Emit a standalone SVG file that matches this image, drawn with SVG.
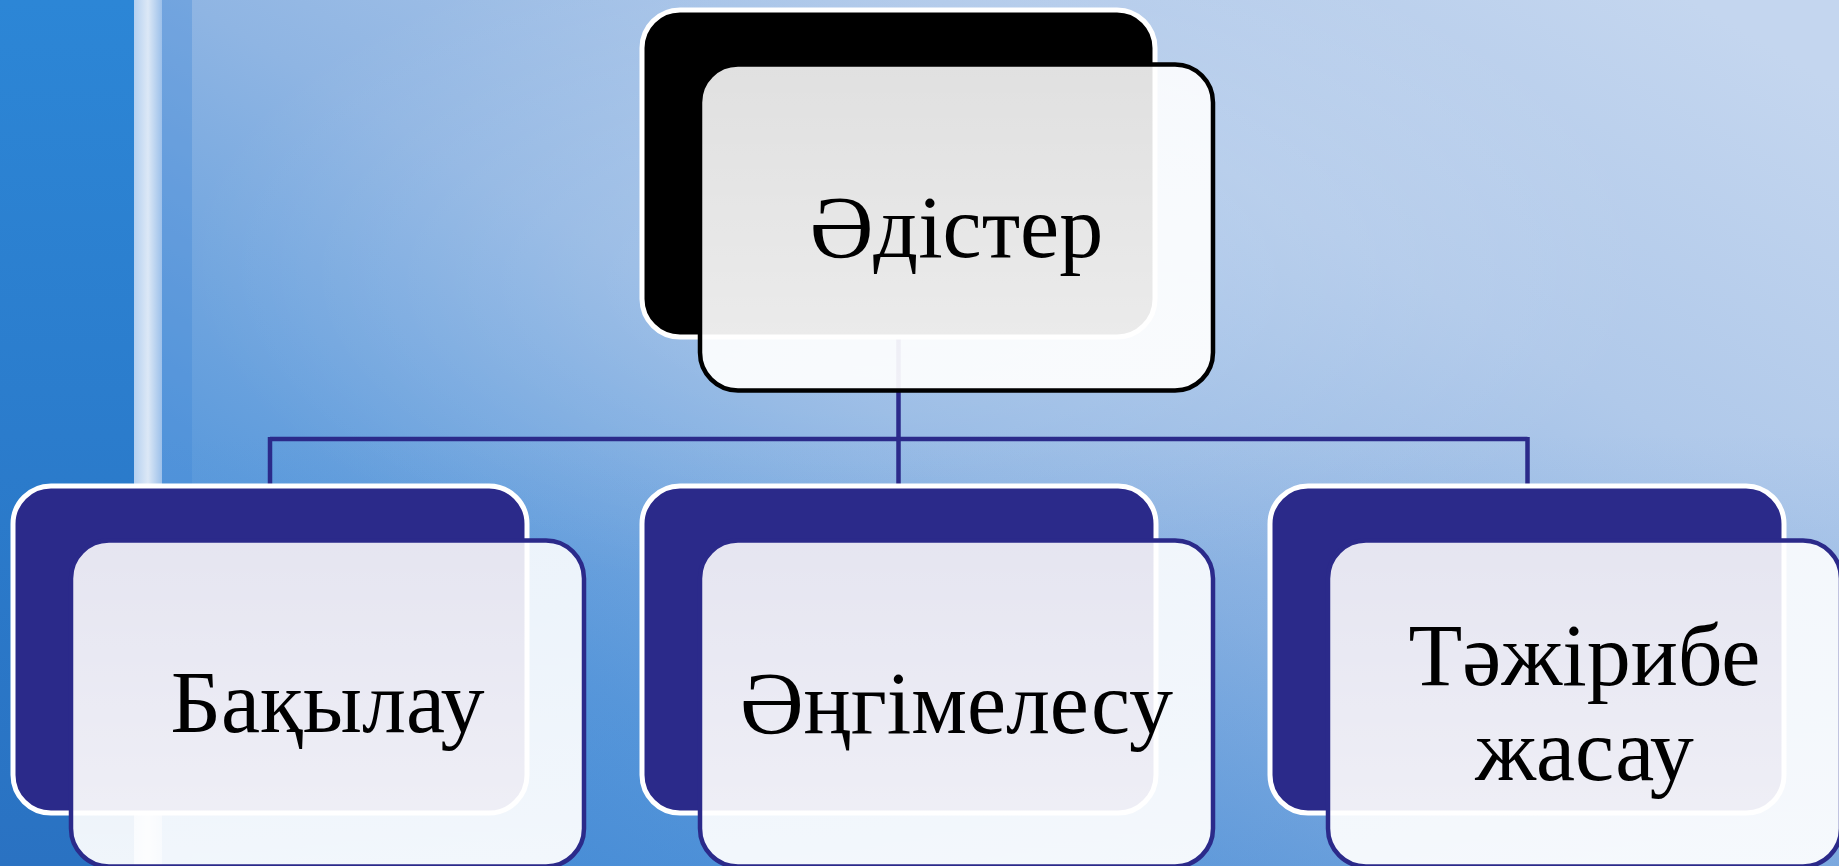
<svg xmlns="http://www.w3.org/2000/svg" width="1839" height="866" viewBox="0 0 1839 866">
  <defs>
    <linearGradient id="bgMain" x1="0" y1="0.9" x2="1" y2="0.1">
      <stop offset="0" stop-color="#3e8ad6"/>
      <stop offset="0.25" stop-color="#5d9bdc"/>
      <stop offset="0.5" stop-color="#8fb5e3"/>
      <stop offset="0.75" stop-color="#b0c9ea"/>
      <stop offset="1" stop-color="#c4d6ef"/>
    </linearGradient>
    <radialGradient id="glow" cx="0.5" cy="0.3" r="0.4">
      <stop offset="0" stop-color="#ffffff" stop-opacity="0.22"/>
      <stop offset="1" stop-color="#ffffff" stop-opacity="0"/>
    </radialGradient>
    <linearGradient id="bottomShade" x1="0" y1="0" x2="0" y2="1">
      <stop offset="0.5" stop-color="#3a80d0" stop-opacity="0"/>
      <stop offset="1" stop-color="#3a80d0" stop-opacity="0.3"/>
    </linearGradient>
    <linearGradient id="leftStrip" x1="0" y1="0" x2="0" y2="1">
      <stop offset="0" stop-color="#2c86d6"/>
      <stop offset="1" stop-color="#2a72c2"/>
    </linearGradient>
    <linearGradient id="lightStrip" x1="0" y1="0" x2="1" y2="0">
      <stop offset="0" stop-color="#b4d0f0"/>
      <stop offset="0.5" stop-color="#dce8f6"/>
      <stop offset="1" stop-color="#9cc0ea"/>
    </linearGradient>
    <linearGradient id="frontFill" x1="0" y1="0" x2="0" y2="1">
      <stop offset="0" stop-color="#ffffff" stop-opacity="0.88"/>
      <stop offset="1" stop-color="#ffffff" stop-opacity="0.93"/>
    </linearGradient>
  </defs>
  <style>
    .back { stroke: #ffffff; stroke-width: 5; }
    .backTop { fill: #000000; }
    .backBlue { fill: #2b2a8a; }
    .front { fill: url(#frontFill); stroke-width: 4.5; }
    .frontTop { stroke: #000000; }
    .frontBlue { stroke: #2b2a8a; }
    .conn { fill: none; stroke: #2b2a8a; stroke-width: 4.5; }
    .label { font-family: "Liberation Serif", "Times New Roman", serif; font-size: 88px; fill: #000000; text-anchor: middle; }
  </style>

  <!-- background -->
  <rect x="0" y="0" width="1839" height="866" fill="url(#bgMain)"/>
  <rect x="0" y="0" width="1839" height="866" fill="url(#glow)"/>
  <rect x="0" y="0" width="1839" height="866" fill="url(#bottomShade)"/>
  <rect x="0" y="0" width="134" height="866" fill="url(#leftStrip)"/>
  <rect x="134" y="0" width="28" height="866" fill="url(#lightStrip)"/>
  <rect x="162" y="0" width="30" height="866" fill="#3f88d6" opacity="0.35"/>

  <!-- connectors -->
  <g id="connectors">
    <path class="conn" d="M898.5,337 V439"/>
    <path class="conn" d="M270,439 H1527.5"/>
    <path class="conn" d="M270,437 V486"/>
    <path class="conn" d="M898.5,437 V486"/>
    <path class="conn" d="M1527.5,437 V486"/>
  </g>

  <!-- top node -->
  <g id="node-root">
    <rect class="back backTop" x="642" y="10" width="513" height="327" rx="38" ry="38"/>
    <rect class="front frontTop" x="700" y="64.5" width="513" height="326" rx="38" ry="38"/>
    <text class="label" x="956.5" y="257">Әдістер</text>
  </g>

  <!-- bottom nodes -->
  <g id="node-bakylau">
    <rect class="back backBlue" x="13" y="486" width="514" height="327" rx="38" ry="38"/>
    <rect class="front frontBlue" x="71" y="540.5" width="513" height="326" rx="38" ry="38"/>
    <text class="label" x="327.5" y="732">Бақылау</text>
  </g>

  <g id="node-angimelesu">
    <rect class="back backBlue" x="642" y="486" width="514" height="327" rx="38" ry="38"/>
    <rect class="front frontBlue" x="700" y="540.5" width="513" height="326" rx="38" ry="38"/>
    <text class="label" x="956.5" y="733">Әңгімелесу</text>
  </g>

  <g id="node-tazhiribe">
    <rect class="back backBlue" x="1270" y="486" width="514" height="327" rx="38" ry="38"/>
    <rect class="front frontBlue" x="1328" y="540.5" width="513" height="326" rx="38" ry="38"/>
    <text class="label" x="1584.5" y="685">Тәжірибе</text>
    <text class="label" x="1584.5" y="780">жасау</text>
  </g>
</svg>
